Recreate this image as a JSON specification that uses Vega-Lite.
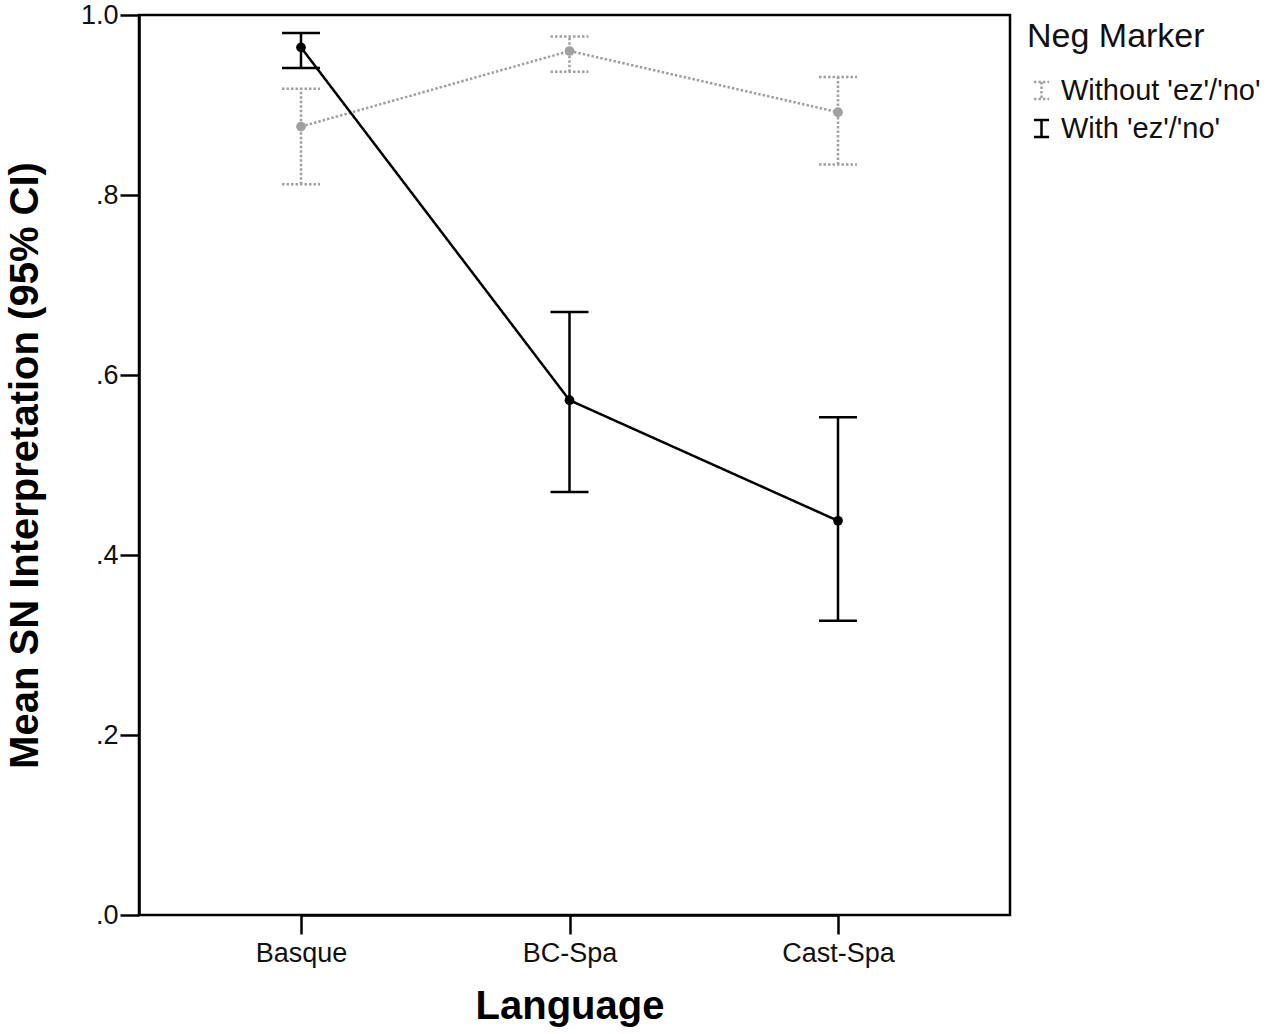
{
  "$schema": "https://vega.github.io/schema/vega-lite/v6.json",
  "autosize": {"type": "none"},
  "padding": {"left": 139, "top": 15, "right": 257, "bottom": 119},
  "width": 871,
  "height": 900,
  "background": "white",
  "config": {
    "font": "Liberation Sans",
    "view": {"stroke": "black", "strokeWidth": 2.5},
    "axis": {
      "domainColor": "black",
      "domainWidth": 2.5,
      "tickColor": "black",
      "tickWidth": 2.5,
      "tickSize": 19,
      "labelColor": "#111",
      "labelFontSize": 27,
      "titleColor": "black",
      "titleFontWeight": "bold",
      "grid": false
    }
  },
  "data": {
    "values": [
      {"Language": "Basque", "Marker": "Without 'ez'/'no'", "mean": 0.876, "lo": 0.812, "hi": 0.918},
      {"Language": "BC-Spa", "Marker": "Without 'ez'/'no'", "mean": 0.960, "lo": 0.937, "hi": 0.976},
      {"Language": "Cast-Spa", "Marker": "Without 'ez'/'no'", "mean": 0.892, "lo": 0.834, "hi": 0.931},
      {"Language": "Basque", "Marker": "With 'ez'/'no'", "mean": 0.964, "lo": 0.941, "hi": 0.980},
      {"Language": "BC-Spa", "Marker": "With 'ez'/'no'", "mean": 0.572, "lo": 0.470, "hi": 0.670},
      {"Language": "Cast-Spa", "Marker": "With 'ez'/'no'", "mean": 0.438, "lo": 0.327, "hi": 0.553}
    ]
  },
  "encoding": {
    "x": {
      "field": "Language",
      "type": "nominal",
      "sort": ["Basque", "BC-Spa", "Cast-Spa"],
      "scale": {"type": "point", "range": [162, 699], "padding": 0},
      "axis": {
        "title": "Language",
        "titleFontSize": 40,
        "titlePadding": 20,
        "labelAngle": 0,
        "labelPadding": 6
      }
    },
    "color": {
      "field": "Marker",
      "type": "nominal",
      "scale": {"domain": ["Without 'ez'/'no'", "With 'ez'/'no'"], "range": ["#a0a0a0", "#000000"]},
      "legend": {
        "title": "Neg Marker",
        "orient": "none",
        "legendX": 888,
        "legendY": 5,
        "titleFontSize": 34,
        "titleFontWeight": "normal",
        "titleColor": "#111",
        "titlePadding": 22,
        "labelFontSize": 29,
        "labelColor": "#111",
        "labelLimit": 0,
        "labelOffset": 5,
        "rowPadding": 8,
        "symbolType": "M-0.8,-0.9H0.8M0,-0.9V0.9M-0.8,0.9H0.8",
        "symbolSize": 360,
        "symbolStrokeWidth": 2.5,
        "symbolFillColor": "transparent"
      }
    },
    "strokeDash": {
      "field": "Marker",
      "type": "nominal",
      "scale": {"domain": ["Without 'ez'/'no'", "With 'ez'/'no'"], "range": [[2.5, 2], [1, 0]]},
      "legend": {
        "title": "Neg Marker",
        "symbolType": "M-0.8,-0.9H0.8M0,-0.9V0.9M-0.8,0.9H0.8"
      }
    }
  },
  "layer": [
    {
      "mark": {"type": "line", "strokeWidth": 2.5},
      "encoding": {
        "y": {
          "field": "mean",
          "type": "quantitative",
          "scale": {"domain": [0, 1]},
          "axis": {
            "title": "Mean SN Interpretation (95% CI)",
            "titleFontSize": 40,
            "titlePadding": 35,
            "values": [0, 0.2, 0.4, 0.6, 0.8, 1.0],
            "labelExpr": "replace(format(datum.value, '.1f'), '0.', '.')",
            "labelPadding": 2
          }
        }
      }
    },
    {
      "mark": {"type": "rule", "strokeWidth": 2.5},
      "encoding": {
        "y": {"field": "lo", "type": "quantitative"},
        "y2": {"field": "hi"}
      }
    },
    {
      "mark": {"type": "rule", "strokeWidth": 2.5, "xOffset": -19, "x2Offset": 19},
      "encoding": {
        "y": {"field": "hi", "type": "quantitative"},
        "x2": {"field": "Language"}
      }
    },
    {
      "mark": {"type": "rule", "strokeWidth": 2.5, "xOffset": -19, "x2Offset": 19},
      "encoding": {
        "y": {"field": "lo", "type": "quantitative"},
        "x2": {"field": "Language"}
      }
    },
    {
      "mark": {"type": "point", "filled": true, "opacity": 1, "size": 95, "strokeWidth": 0},
      "encoding": {
        "y": {"field": "mean", "type": "quantitative"}
      }
    }
  ]
}
